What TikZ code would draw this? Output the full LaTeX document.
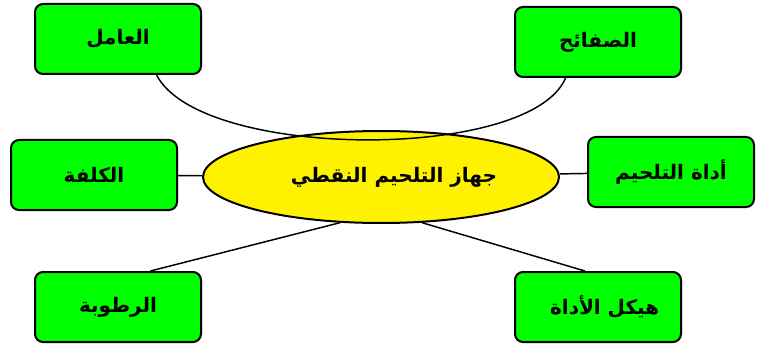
\documentclass[tikz,border=0pt]{standalone}
\usepackage{fontspec}
\newfontfamily\arabicfont[Script=Arabic]{DejaVu Sans}
\TeXXeTstate=1
\usetikzlibrary{shapes.geometric}
\newcommand{\artext}[1]{\arabicfont\bfseries\beginR #1\endR}

\begin{document}
\begin{tikzpicture}
[x=0.75pt,y=-0.75pt,
box/.style={draw=black,line width=1.5pt,fill=green,rounded corners=6pt,minimum width=124.5pt,minimum height=52.5pt,inner sep=0pt,font=\fontsize{15}{17}\selectfont},
hub/.style={ellipse,draw=black,line width=1.5pt,fill=yellow,minimum width=267pt,minimum height=69pt,inner sep=0pt,font=\fontsize{15}{17}\selectfont},
edge/.style={line width=1.1pt,black}]
\useasboundingbox (0,0) rectangle (763,349);
\node[hub,] (0) at (381,177) {\hspace*{19.5pt}\raisebox{3pt}{\artext{جهاز التلحيم النقطي}}};
\node[box,] (1) at (118,39) {\artext{العامل}};
\node[box,] (2) at (598,42) {\artext{الصفائح}};
\node[box,] (3) at (94,175) {\artext{الكلفة}};
\node[box,] (4) at (671,172) {\artext{أداة التلحيم}};
\node[box,] (5) at (118,307) {\artext{الرطوبة}};
\node[box,] (6) at (598,307) {\hspace*{10pt}\raisebox{3pt}{\artext{هيكل الأداة}}};
\draw[edge,](1.317) .. controls (200,160) and (530,162) .. (2.228) ;
\draw[edge,](3) -- (0) ;
\draw[edge,](0) -- (4) ;
\draw[edge,](0.228) -- (5.48) ;
\draw[edge,](0.312) -- (6.110) ;
\end{tikzpicture}
\end{document}
